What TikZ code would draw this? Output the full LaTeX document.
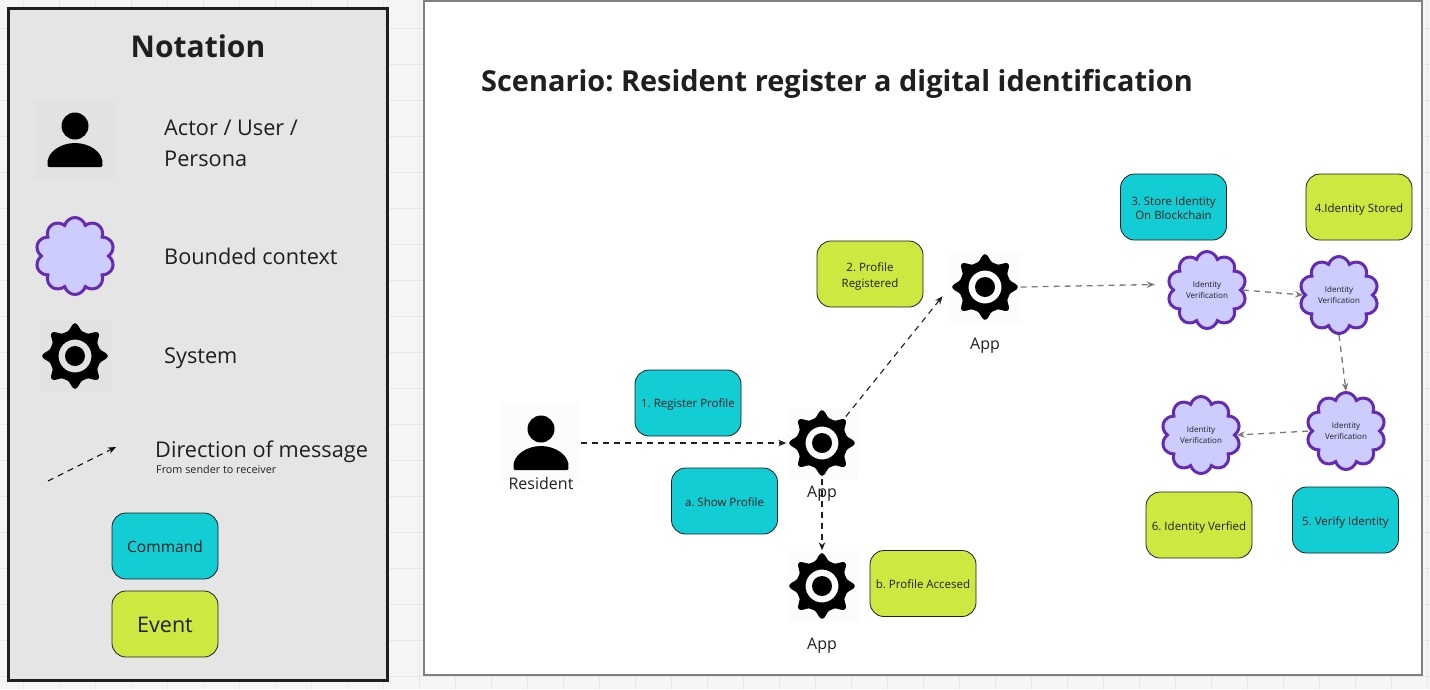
\documentclass[tikz,border=0pt]{standalone}
\usepackage{fontspec}
\setmainfont{Open Sans}
\usetikzlibrary{shapes.symbols,arrows.meta}
\definecolor{cmdc}{HTML}{12CDD4}
\definecolor{evtc}{HTML}{CEE741}
\definecolor{cloudf}{HTML}{CCCCFF}
\definecolor{cloudl}{HTML}{652CB3}
\definecolor{ink}{HTML}{1F1F1F}
\newcommand{\fs}[1]{\fontsize{#1}{#1}\selectfont}
\newcommand{\st}[1]{\rule{0pt}{#1pt}}
\frenchspacing
\tikzset{
  x=1pt,y=-1pt,
  card/.style={draw=ink,line width=0.8pt,rounded corners=14pt,minimum width=106pt,minimum height=66pt,
    align=center,inner sep=2pt,text=ink,font=\fs{11.5}},
  command/.style={card,fill=cmdc},
  event/.style={card,fill=evtc},
  bcloud/.style={cloud,cloud puffs=10,cloud puff arc=150,aspect=1,draw=cloudl,fill=cloudf,line width=3pt,
    minimum width=79pt,minimum height=77pt,inner sep=0pt,align=center,text=ink,font=\fs{8}},
  gearnode/.style={circle,minimum size=71pt,inner sep=0pt},
  personnode/.style={rectangle,minimum size=80pt,inner sep=0pt},
  label/.style={inner sep=0pt,text=ink},
  msg/.style={-{Stealth[length=8pt,width=6.5pt]},dash pattern=on 6pt off 5pt,line width=1.1pt,draw=ink},
  fmsg/.style={-{Stealth[length=8pt,width=6.5pt]},dash pattern=on 6pt off 5pt,line width=1.3pt,draw=ink!60},
  gearpic/.pic={
    \fill[black,opacity=0.012] (-35.5,-35.5) rectangle (35.5,35.5);
    \fill[black,even odd rule] plot[domain=0:360,samples=241] (\x:{25.5+7.2*(1+cos(8*\x))*(1+cos(8*\x))/4}) -- cycle
      (0,0) circle (16.5pt) (0,0) circle (10pt);
  },
  personpic/.pic={
    \fill[black,opacity=0.012] (-40,-40) rectangle (40,40);
    \fill[black] (0,-14) circle (13.5pt);
    \fill[black] (-27.5,25) .. controls (-29,12) and (-14,3) .. (0,3) .. controls (14,3) and (29,12) .. (27.5,25)
      .. controls (27.5,26.5) and (26.5,27) .. (25.5,27) -- (-25.5,27) .. controls (-26.5,27) and (-27.5,26.5) .. (-27.5,25) -- cycle;
  },
}
\begin{document}
\begin{tikzpicture}
\useasboundingbox (0,0) rectangle (1430,689);
\fill[black!4] (0,0) rectangle (1430,689);
\foreach \i in {0,...,39} \draw[black!9,line width=0.6pt] ({23+36*\i},0) -- ({23+36*\i},689);
\foreach \i in {0,...,18} \draw[black!9,line width=0.6pt] (0,{28+36*\i}) -- (1430,{28+36*\i});

% panels
\node[draw=ink,line width=3.5pt,fill=black!10,minimum width=379pt,minimum height=672pt,inner sep=0pt] (legend) at (198,344.5) {};
\node[draw=black!50,line width=1.4pt,fill=white,minimum width=998pt,minimum height=674pt,inner sep=0pt] (main) at (923,338) {};

% legend
\node[label,font=\fs{30}\bfseries] (ntitle) at (198,46.5) {Notation};
\pic at (75,140) {personpic};
\node[label,font=\fs{21.7},anchor=west,align=left] (lactor) at (164,143) {Actor / User /\\[9pt]Persona};
\node[bcloud] (lcloud) at (75,256) {};
\node[label,font=\fs{21.7},anchor=west] (lbounded) at (164,256) {Bounded context};
\pic at (75,356) {gearpic};
\node[gearnode] (lgear) at (75,356) {};
\node[label,font=\fs{21.7},anchor=west] (lsystem) at (164,358.5) {System};
\coordinate (la) at (48,481);
\coordinate (lb) at (116,447);
\draw[msg,draw=black] (la) -- (lb);
\node[label,font=\fs{21.7},anchor=west] (ldir) at (155,452) {Direction of message};
\node[label,font=\fs{10.8},anchor=west] (lfrom) at (156,469.5) {From sender to receiver};
\node[command,font=\fs{15.5}] (lcmd) at (165,546) {\st{14}Command};
\node[event,font=\fs{21.5}] (levt) at (165,624) {\st{18}Event};

% main
\node[label,font=\fs{28.9}\bfseries,anchor=west] (title) at (481,84) {Scenario: Resident register a digital identification};
\pic at (541,443) {personpic};
\node[personnode] (resident) at (541,443) {};
\node[label,font=\fs{16}] (lres) at (541,483) {Resident};
\pic at (822,443) {gearpic};
\node[gearnode] (app1) at (822,443) {};
\node[label,font=\fs{16}] (lapp1) at (822,494) {App};
\pic at (822,586) {gearpic};
\node[gearnode] (app2) at (822,586) {};
\node[label,font=\fs{16}] (lapp2) at (822,646) {App};
\pic at (985,287) {gearpic};
\node[gearnode] (app3) at (985,287) {};
\node[label,font=\fs{16}] (lapp3) at (985,346) {App};

\node[command] (c1) at (688,403) {\st{12.6}1. Register Profile};
\node[command] (ca) at (724.5,501) {\st{10.6}a. Show Profile};
\node[event] (e2) at (870,274) {\st{13.6}2. Profile\\[5pt]Registered};
\node[command] (c3) at (1173.5,207) {\st{10.6}3. Store Identity\\[3pt]On Blockchain};
\node[event] (e4) at (1359,207) {\st{13}4.Identity Stored};
\node[event] (e6) at (1199,525) {\st{14.6}6. Identity Verfied};
\node[command] (c5) at (1345.5,520) {\st{14.6}5. Verify Identity};
\node[event] (eb) at (923,583.5) {\st{10.6}b. Profile Accesed};

\node[bcloud] (b1) at (1207,290) {Identity\\[2pt]Verification};
\node[bcloud] (b2) at (1339,295) {Identity\\[2pt]Verification};
\node[bcloud] (b3) at (1346,431) {Identity\\[2pt]Verification};
\node[bcloud] (b4) at (1201,435) {Identity\\[2pt]Verification};

% connectors
\draw[msg] (resident.east) -- (app1.west);
\draw[msg] (app1.48) -- ([xshift=-8pt]app3.195);
\draw[msg] (app1.south) -- (app2.north);
\draw[fmsg] (app3.east) -- ([xshift=-13pt]b1.172);
\draw[fmsg] (b1.east) -- (b2.west);
\draw[fmsg] (b2.south) -- (b3.north);
\draw[fmsg,shorten <=2pt] (b3.west) -- (b4.east);
\end{tikzpicture}
\end{document}
